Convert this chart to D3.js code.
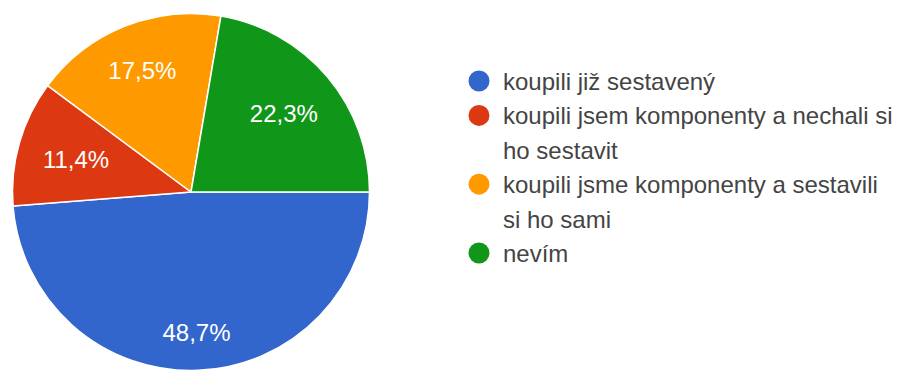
<!DOCTYPE html>
<html>
<head>
<meta charset="utf-8">
<script src="https://cdn.jsdelivr.net/npm/d3@7"></script>
<style>
  html, body { margin: 0; padding: 0; background: #ffffff; }
  svg { display: block; }
  text { font-family: "Liberation Sans", Arial, sans-serif; }
</style>
</head>
<body>
<svg id="chart" width="903" height="370"></svg>
<script>
// Survey answers and their shares (percent)
const categories = [
  "koupili již sestavený",
  "koupili jsem komponenty a nechali si ho sestavit",
  "koupili jsme komponenty a sestavili si ho sami",
  "nevím"
];
const shares = [48.7, 11.4, 17.5, 22.3];
const sliceLabels = ["48,7%", "11,4%", "17,5%", "22,3%"];
const palette = ["#3366cc", "#dc3912", "#ff9900", "#109618"];

const W = 903, H = 370;
const cx = 191, cy = 192, R = 178.5;
const fontSize = 24;

const svg = d3.select("#chart");

const data = categories.map((c, i) => ({ name: c, value: shares[i], label: sliceLabels[i], color: palette[i] }));

// Slices start at three o'clock and run clockwise
const pie = d3.pie()
  .sort(null)
  .value(d => d.value)
  .startAngle(Math.PI / 2)
  .endAngle(Math.PI / 2 + 2 * Math.PI);

const arcs = pie(data);
const arc = d3.arc().innerRadius(0).outerRadius(R);

const g = svg.append("g").attr("transform", `translate(${cx},${cy})`);

g.selectAll("path.slice")
  .data(arcs)
  .join("path")
  .attr("class", "slice")
  .attr("d", arc)
  .attr("fill", d => d.data.color)
  .attr("stroke", "#ffffff")
  .attr("stroke-width", 1.5)
  .attr("stroke-linejoin", "round");

// Percentage labels: pushed out along the slice's mid-angle until the
// farthest corner of the text box reaches a fixed fraction of the radius
const labelReach = R * 0.862;
const capH = fontSize * 0.716;

const labels = g.selectAll("text.pct")
  .data(arcs)
  .join("text")
  .attr("class", "pct")
  .attr("text-anchor", "middle")
  .attr("fill", "#ffffff")
  .attr("font-size", fontSize)
  .text(d => d.data.label);

labels.each(function(d) {
  const w = this.getComputedTextLength();
  const a = (d.startAngle + d.endAngle) / 2;
  const ux = Math.sin(a), uy = -Math.cos(a);
  const hx = w / 2, hy = capH / 2;
  const uc = Math.abs(ux) * hx + Math.abs(uy) * hy;
  const c2 = hx * hx + hy * hy;
  const t = -uc + Math.sqrt(uc * uc - c2 + labelReach * labelReach);
  const px = ux * t, py = uy * t;
  d3.select(this)
    .attr("x", px)
    .attr("y", py + hy);
});

// Legend with word-wrapped entries
const legendX = 479, textX = 503;
const firstBaseline = 90, lineStep = 34.4;
const maxTextWidth = 394;

const legend = svg.append("g");
let lineIndex = 0;

data.forEach(d => {
  const baseline = firstBaseline + lineStep * lineIndex;
  legend.append("circle")
    .attr("cx", legendX)
    .attr("cy", baseline - 9)
    .attr("r", 10.5)
    .attr("fill", d.color);

  const txt = legend.append("text")
    .attr("x", textX)
    .attr("y", baseline)
    .attr("font-size", fontSize)
    .attr("fill", "#444444");

  const words = d.name.split(" ");
  let line = [];
  let tspan = txt.append("tspan").attr("x", textX).attr("y", baseline);
  let linesUsed = 1;
  words.forEach(word => {
    line.push(word);
    tspan.text(line.join(" "));
    if (tspan.node().getComputedTextLength() > maxTextWidth && line.length > 1) {
      line.pop();
      tspan.text(line.join(" "));
      line = [word];
      tspan = txt.append("tspan")
        .attr("x", textX)
        .attr("y", baseline + lineStep * linesUsed)
        .text(word);
      linesUsed += 1;
    }
  });
  lineIndex += linesUsed;
});
</script>
</body>
</html>
